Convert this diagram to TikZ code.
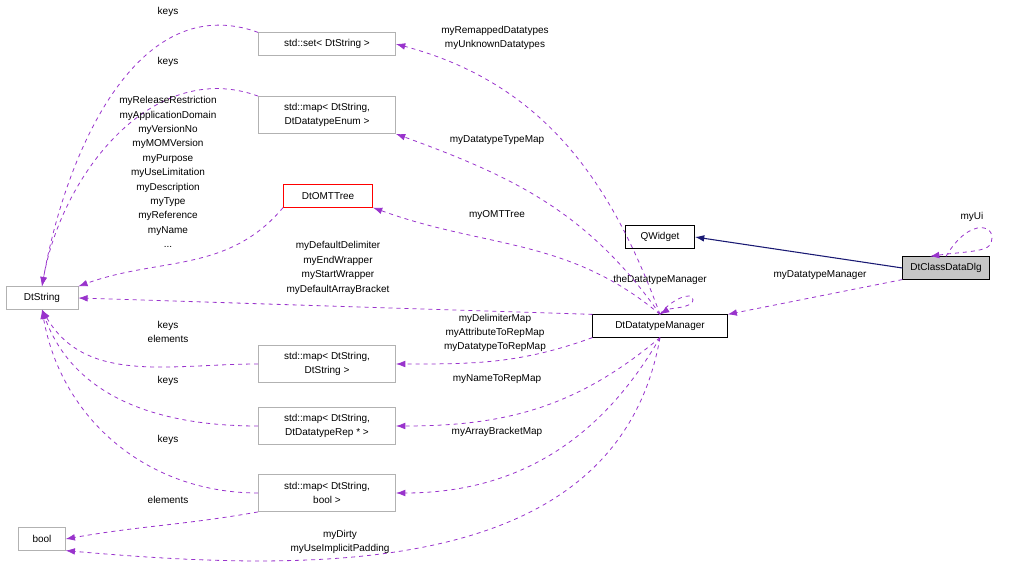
\documentclass[tikz,border=0pt]{standalone}
\usepackage{fontspec}
\setmainfont{Liberation Sans}
\usetikzlibrary{arrows.meta}
\definecolor{darkorchid}{rgb}{0.6, 0.2, 0.8}
\definecolor{navyedge}{rgb}{0.1, 0.1, 0.45}
\tikzset{cls/.style = {draw=black, fill=white, font=\fontsize{7.5}{10.5}\selectfont, inner sep=2pt, minimum height=17pt, align=center}}
\tikzset{ext/.style = {cls, draw=gray!60}}
\tikzset{use/.style = {draw=darkorchid, dashed, line width=0.6pt, -{Latex[length=7pt,width=5pt]}}}
\tikzset{lbl/.style = {font=\fontsize{7.5}{10.8}\selectfont, align=center, inner sep=0pt}}

\begin{document}
\begin{tikzpicture}[x=0.75pt, y=-0.75pt]
		\useasboundingbox (0,0) rectangle (1029,573);
		
		% Classes
		\node[cls, fill=gray!45, minimum width=65pt] (dlg) at (946,268) {DtClassDataDlg};
		\node[cls, minimum width=52pt] (qw) at (660,237) {QWidget};
		\node[cls, minimum width=101pt] (mgr) at (660,326) {DtDatatypeManager};
		\node[ext, minimum width=54pt] (str) at (42,298) {DtString};
		\node[ext, minimum width=35pt] (bool) at (42,539) {bool};
		\node[ext, minimum width=103pt] (set) at (327,44) {std::set\textless{} DtString \textgreater};
		\node[ext, minimum width=103pt, minimum height=28pt] (menum) at (327,115) {std::map\textless{} DtString,\\DtDatatypeEnum \textgreater};
		\node[cls, draw=red, minimum width=67pt] (omt) at (328,196) {DtOMTTree};
		\node[ext, minimum width=103pt, minimum height=28pt] (mstr) at (327,364) {std::map\textless{} DtString,\\DtString \textgreater};
		\node[ext, minimum width=103pt, minimum height=28pt] (mrep) at (327,426) {std::map\textless{} DtString,\\DtDatatypeRep * \textgreater};
		\node[ext, minimum width=103pt, minimum height=28pt] (mbool) at (327,493) {std::map\textless{} DtString,\\bool \textgreater};
		
		% Inheritance
		\draw[navyedge, line width=0.8pt, -{Latex[length=7pt,width=5pt]}] (dlg.west) -- (qw.east);
		
		% Self loops
		\draw[use] (dlg.north) .. controls (970,215) and (1000,225) .. (990,245) .. controls (985,252) and (960,252) .. ([xshift=-12pt]dlg.north);
		\node[lbl] (ui) at (972,217) {myUi};
		\draw[use] (mgr.north) .. controls (670,300) and (693,290) .. (693,300) .. controls (693,308) and (670,308) .. (mgr.north);
		\node[lbl] (tdm) at (660,280) {theDatatypeManager};
		
		% Usage
		\draw[use] (dlg.south west) -- (mgr.north east);
		\node[lbl] at (820,275) {myDatatypeManager};
		\draw[use] (mgr.north west) -- (str.east);
		\node[lbl] at (338,268) {myDefaultDelimiter\\myEndWrapper\\myStartWrapper\\myDefaultArrayBracket};
		\draw[use] (set.north west) to[out=160, in=80] (str.north);
		\node[lbl] at (168,12) {keys};
		\draw[use] (menum.north west) to[out=160, in=80] (str.north);
		\node[lbl] at (168,62) {keys};
		\draw[use] (omt.south west) to[out=-130, in=20] (str.north east);
		\node[lbl] at (168,172) {myReleaseRestriction\\myApplicationDomain\\myVersionNo\\myMOMVersion\\myPurpose\\myUseLimitation\\myDescription\\myType\\myReference\\myName\\...};
		\draw[use] (mstr.west) to[out=180, in=-60] (str.south);
		\node[lbl] at (168,332) {keys\\elements};
		\draw[use] (mrep.west) to[out=180, in=-70] (str.south);
		\node[lbl] at (168,381) {keys};
		\draw[use] (mbool.west) to[out=180, in=-80] (str.south);
		\node[lbl] at (168,440) {keys};
		\draw[use] (mbool.south west) to[out=-170, in=10] (bool.east);
		\node[lbl] at (168,500) {elements};
		\draw[use] (mgr.south) to[out=-100, in=-5] (bool.south east);
		\node[lbl] at (340,542) {myDirty\\myUseImplicitPadding};
		\draw[use] (mgr.north) to[out=110, in=-15] (set.east);
		\node[lbl] at (495,38) {myRemappedDatatypes\\myUnknownDatatypes};
		\draw[use] (mgr.north) to[out=125, in=-20] (menum.south east);
		\node[lbl] at (497,140) {myDatatypeTypeMap};
		\draw[use] (mgr.north) to[out=140, in=-20] (omt.south east);
		\node[lbl] at (497,215) {myOMTTree};
		\draw[use] (mgr.south west) to[out=-160, in=0] (mstr.east);
		\node[lbl] at (495,333) {myDelimiterMap\\myAttributeToRepMap\\myDatatypeToRepMap};
		\draw[use] (mgr.south) to[out=-140, in=0] (mrep.east);
		\node[lbl] at (497,379) {myNameToRepMap};
		\draw[use] (mgr.south) to[out=-120, in=0] (mbool.east);
		\node[lbl] at (497,432) {myArrayBracketMap};
	\end{tikzpicture}
\end{document}
